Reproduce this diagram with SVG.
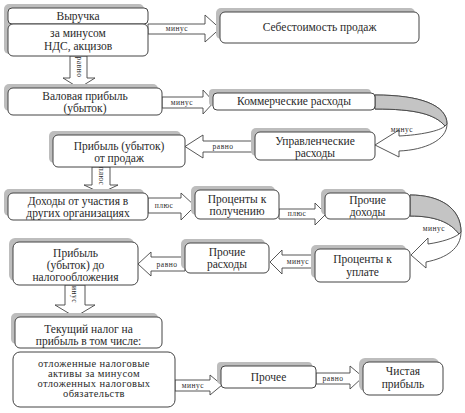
<svg xmlns="http://www.w3.org/2000/svg" width="465" height="413" viewBox="0 0 465 413">
<defs>
<style>
.bg{fill:#ffffff}
.sh{fill:#bdbdbd}
.box{fill:#ffffff;stroke:#444;stroke-width:1}
.t{font-family:"Liberation Serif","DejaVu Serif","Times New Roman",serif;font-size:11.5px;fill:#2a2a2a;text-anchor:middle}
.lbl{font-family:"Liberation Serif","DejaVu Serif","Times New Roman",serif;font-size:7.5px;fill:#2a2a2a;text-anchor:middle;letter-spacing:0.5px}
.arr{fill:#ffffff;stroke:#444;stroke-width:0.9;stroke-linejoin:miter}
.cv{fill:#ffffff;stroke:#444;stroke-width:0.9}
.band{fill:#c4c4c4;stroke:#444;stroke-width:0.9}
</style>
</defs>
<rect class="bg" x="0" y="0" width="465" height="413"/>

<g id="connectors">
<polygon class="arr" points="148,24 205,24 205,15 220,28.5 205,42 205,34 148,34"/>
<text class="lbl" x="177" y="31">минус</text>
<polygon class="arr" points="70,56 87,56 87,78 95,78 79,88 63,78 70,78"/>
<text class="lbl" transform="translate(76.5,67) rotate(90)">равно</text>
<polygon class="arr" points="162,97 203,97 203,90 214,102 203,114 203,108 162,108"/>
<text class="lbl" x="182" y="105">минус</text>
<path class="cv" d="M375,95 C420,95 447,105 447,124 C447,140 425,150 399,151 L399,157 L375,145 L399,130 L399,136 C420,135 440,131 445,126 C435,114 415,109 375,109 Z"/>
<path class="band" d="M375,95 C420,95 447,105 447,124 L445,126 C435,114 415,109 375,109 Z"/>
<text class="lbl" x="402" y="132">минус</text>
<polygon class="arr" points="255,141 203,141 203,135 185,146.5 203,158 203,152 255,152"/>
<text class="lbl" x="223" y="149">равно</text>
<polygon class="arr" points="92,167 110,167 110,185 118,185 101,193 84,185 92,185"/>
<text class="lbl" transform="translate(98.5,176) rotate(90)">плюс</text>
<polygon class="arr" points="148,198 181,198 181,193 195,206 181,220 181,213 148,213"/>
<text class="lbl" x="164" y="208">плюс</text>
<polygon class="arr" points="279,209 315,209 315,203 326,214 315,225 315,219 279,219"/>
<text class="lbl" x="297" y="216">плюс</text>
<path class="cv" d="M410,195 C440,195 461,208 461,232 C461,248 447,258 426,262 L426,268 L411,255 L428,238 L428,244 C442,242 454,238 459,234 C450,222 435,216 410,216 Z"/>
<path class="band" d="M410,195 C440,195 461,208 461,232 L459,234 C450,222 435,216 410,216 Z"/>
<text class="lbl" x="434" y="231">минус</text>
<polygon class="arr" points="315,255 282,255 282,250 270,262 282,274 282,268 315,268"/>
<text class="lbl" x="298" y="264">минус</text>
<polygon class="arr" points="185,257 151,257 151,252 138,264 151,276 151,271 185,271"/>
<text class="lbl" x="167" y="267">равно</text>
<polygon class="arr" points="65,285 85,285 85,305 95,305 75,317 55,305 65,305"/>
<text class="lbl" transform="translate(72,292) rotate(90)">минус</text>
<polygon class="arr" points="175,380 210,380 210,375 222,385 210,395 210,391 175,391"/>
<text class="lbl" x="193" y="388">минус</text>
<polygon class="arr" points="316,373 350,373 350,366 363,377 350,389 350,384 316,384"/>
<text class="lbl" x="333" y="381">равно</text>
</g>

<g id="n1">
<rect class="sh" x="4" y="4" width="140" height="50" rx="5"/>
<rect class="box" x="8" y="8" width="140" height="16" rx="4"/>
<text class="t" x="78" y="20">Выручка</text>
</g>
<g id="n1b">
<rect class="box" x="8" y="24" width="140" height="32" rx="5"/>
<text class="t" x="78" y="37">за минусом</text>
<text class="t" x="78" y="50">НДС, акцизов</text>
</g>
<g id="n2">
<rect class="sh" x="216" y="8" width="199" height="31" rx="5"/>
<rect class="box" x="220" y="12" width="199" height="31" rx="5"/>
<text class="t" x="319.5" y="31">Себестоимость продаж</text>
</g>
<g id="n3">
<rect class="sh" x="4" y="84" width="154" height="27" rx="5"/>
<rect class="box" x="8" y="88" width="154" height="27" rx="5"/>
<text class="t" x="85" y="100">Валовая прибыль</text>
<text class="t" x="85" y="112">(убыток)</text>
</g>
<g id="n4">
<rect class="sh" x="209" y="89" width="162" height="17" rx="4"/>
<rect class="box" x="213" y="93" width="162" height="17" rx="4"/>
<text class="t" x="294" y="105">Коммерческие расходы</text>
</g>
<g id="n5">
<rect class="sh" x="251" y="128" width="120" height="28" rx="5"/>
<rect class="box" x="255" y="132" width="120" height="28" rx="5"/>
<text class="t" x="315" y="145">Управленческие</text>
<text class="t" x="315" y="157">расходы</text>
</g>
<g id="n6">
<rect class="sh" x="49" y="131" width="132" height="32" rx="5"/>
<rect class="box" x="53" y="135" width="132" height="32" rx="5"/>
<text class="t" x="119" y="150">Прибыль (убыток)</text>
<text class="t" x="119" y="162">от продаж</text>
</g>
<g id="n7">
<rect class="sh" x="4" y="189" width="140" height="27" rx="5"/>
<rect class="box" x="8" y="193" width="140" height="27" rx="5"/>
<text class="t" x="78" y="205">Доходы от участия в</text>
<text class="t" x="78" y="217">других организациях</text>
</g>
<g id="n8">
<rect class="sh" x="191" y="186" width="84" height="29" rx="5"/>
<rect class="box" x="195" y="190" width="84" height="29" rx="5"/>
<text class="t" x="237" y="203">Проценты к</text>
<text class="t" x="237" y="215">получению</text>
</g>
<g id="n9">
<rect class="sh" x="321" y="189" width="85" height="26" rx="5"/>
<rect class="box" x="325" y="193" width="85" height="26" rx="5"/>
<text class="t" x="367.5" y="204">Прочие</text>
<text class="t" x="367.5" y="216">доходы</text>
</g>
<g id="n10">
<rect class="sh" x="311" y="245" width="95" height="33" rx="5"/>
<rect class="box" x="315" y="249" width="95" height="33" rx="5"/>
<text class="t" x="362.5" y="263">Проценты к</text>
<text class="t" x="362.5" y="276">уплате</text>
</g>
<g id="n11">
<rect class="sh" x="181" y="239" width="84" height="30" rx="5"/>
<rect class="box" x="185" y="243" width="84" height="30" rx="5"/>
<text class="t" x="227" y="256">Прочие</text>
<text class="t" x="227" y="268">расходы</text>
</g>
<g id="n12">
<rect class="sh" x="9" y="238" width="125" height="43" rx="6"/>
<rect class="box" x="13" y="242" width="125" height="43" rx="6"/>
<text class="t" x="75.5" y="257">Прибыль</text>
<text class="t" x="75.5" y="269">(убыток) до</text>
<text class="t" x="75.5" y="281">налогообложения</text>
</g>
<g id="n13">
<rect class="sh" x="11" y="313" width="147" height="31" rx="5"/>
<rect class="box" x="15" y="317" width="147" height="31" rx="5"/>
<text class="t" x="88.5" y="333">Текущий налог на</text>
<text class="t" x="88.5" y="345">прибыль в том числе:</text>
</g>
<g id="n14">
<rect class="box" x="13" y="352" width="162" height="55" rx="7"/>
<text class="t" x="94" y="367" style="font-size:10.5px;letter-spacing:0.4px">отложенные налоговые</text>
<text class="t" x="94" y="377" style="font-size:10.5px;letter-spacing:0.4px">активы за минусом</text>
<text class="t" x="94" y="387" style="font-size:10.5px;letter-spacing:0.4px">отложенных налоговых</text>
<text class="t" x="94" y="397" style="font-size:10.5px;letter-spacing:0.4px">обязательств</text>
</g>
<g id="n15">
<rect class="sh" x="217" y="362" width="95" height="22" rx="4"/>
<rect class="box" x="221" y="366" width="95" height="22" rx="4"/>
<text class="t" x="268.5" y="381">Прочее</text>
</g>
<g id="n16">
<rect class="sh" x="359" y="358" width="80" height="33" rx="6"/>
<rect class="box" x="363" y="362" width="80" height="33" rx="6"/>
<text class="t" x="403" y="375">Чистая</text>
<text class="t" x="403" y="388">прибыль</text>
</g>
</svg>
